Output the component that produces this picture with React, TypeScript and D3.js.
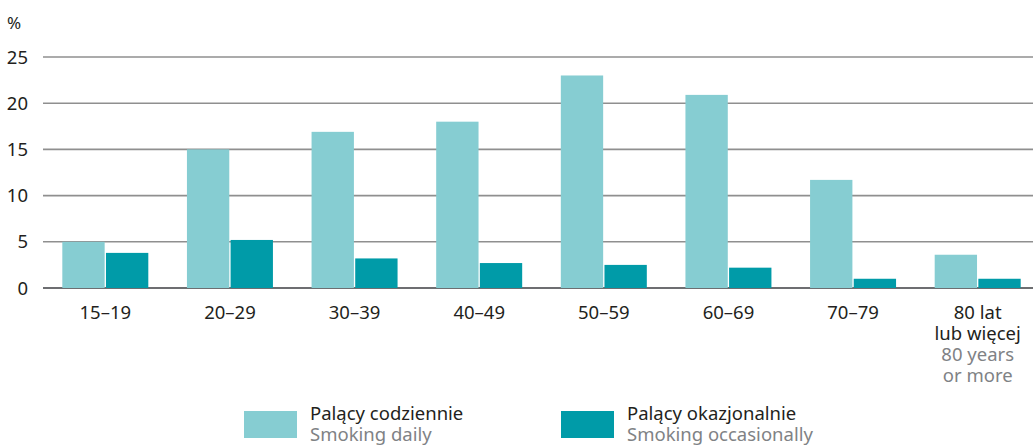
import React, { useEffect, useRef } from "react";
import * as d3 from "d3";

const categories = ["15–19", "20–29", "30–39", "40–49", "50–59", "60–69", "70–79", "80+"];
const dailyValues = [5.0, 15.0, 16.9, 18.0, 23.0, 20.9, 11.7, 3.6];
const occasionalValues = [3.8, 5.2, 3.2, 2.7, 2.5, 2.2, 1.0, 1.0];
const yTicks = [0, 5, 10, 15, 20, 25];
const seriesKeys = ["daily", "occasional"];
const seriesLabelsPl = ["Palący codziennie", "Palący okazjonalnie"];
const seriesLabelsEn = ["Smoking daily", "Smoking occasionally"];
const lastLabelPl = ["80 lat", "lub więcej"];
const lastLabelEn = ["80 years", "or more"];

const colors = ["#86cdd2", "#009ba8"];
const font = "'Noto Sans', sans-serif";
const fs = 18.5;

export default function App() {
  const ref = useRef<SVGSVGElement>(null);

  useEffect(() => {
    const svg = d3.select(ref.current);
    svg.selectAll("*").remove();

    const W = 1033;
    const left = 43;
    const y = d3.scaleLinear().domain([0, 25]).range([288, 57]);
    const x0 = d3.scaleBand().domain(categories).range([43, 1040]).paddingInner(0.31).paddingOuter(0.155);
    const x1 = d3.scaleBand().domain(seriesKeys).range([0, x0.bandwidth()]).paddingInner(0.03);

    // gridlines
    svg.append("g")
      .selectAll("line")
      .data(yTicks)
      .enter()
      .append("line")
      .attr("x1", left)
      .attr("x2", W)
      .attr("y1", (d) => y(d))
      .attr("y2", (d) => y(d))
      .attr("stroke", (d) => (d === 0 ? "#6d6e71" : "#8f8f8f"))
      .attr("stroke-width", (d) => (d === 0 ? 2 : 1.6));

    svg.append("g")
      .selectAll("text")
      .data(yTicks)
      .enter()
      .append("text")
      .attr("x", 28)
      .attr("y", (d) => y(d) + 6.5)
      .attr("text-anchor", "end")
      .attr("font-family", font)
      .attr("font-size", fs)
      .attr("fill", "#231f20")
      .text((d) => d);

    svg.append("text")
      .attr("x", 7)
      .attr("y", 29)
      .attr("font-family", font)
      .attr("font-size", 17)
      .attr("fill", "#231f20")
      .text("%");

    // bars
    const groups = svg.append("g")
      .selectAll("g")
      .data(categories)
      .enter()
      .append("g")
      .attr("transform", (d) => `translate(${x0(d)},0)`);

    groups.append("rect")
      .attr("x", x1("daily")!)
      .attr("width", x1.bandwidth())
      .attr("y", (d, i) => y(dailyValues[i]))
      .attr("height", (d, i) => y(0) - y(dailyValues[i]))
      .attr("fill", colors[0]);

    groups.append("rect")
      .attr("x", x1("occasional")!)
      .attr("width", x1.bandwidth())
      .attr("y", (d, i) => y(occasionalValues[i]))
      .attr("height", (d, i) => y(0) - y(occasionalValues[i]))
      .attr("fill", colors[1]);

    // category labels
    const cx = (d: string) => x0(d)! + x0.bandwidth() / 2;
    categories.forEach((c, i) => {
      if (i < categories.length - 1) {
        svg.append("text")
          .attr("x", cx(c))
          .attr("y", 319)
          .attr("text-anchor", "middle")
          .attr("font-family", font)
          .attr("font-size", fs)
          .attr("fill", "#231f20")
          .text(c);
      } else {
        const lines = [...lastLabelPl, ...lastLabelEn];
        lines.forEach((l, j) => {
          svg.append("text")
            .attr("x", cx(c))
            .attr("y", 319 + j * 21)
            .attr("text-anchor", "middle")
            .attr("font-family", font)
            .attr("font-size", fs)
            .attr("fill", j < 2 ? "#231f20" : "#808285")
            .text(l);
        });
      }
    });

    // legend
    const legendX = [244, 561];
    seriesKeys.forEach((k, i) => {
      svg.append("rect")
        .attr("x", legendX[i])
        .attr("y", 411)
        .attr("width", 53)
        .attr("height", 27)
        .attr("fill", colors[i]);
      svg.append("text")
        .attr("x", legendX[i] + 66)
        .attr("y", 420)
        .attr("font-family", font)
        .attr("font-size", fs)
        .attr("fill", "#231f20")
        .text(seriesLabelsPl[i]);
      svg.append("text")
        .attr("x", legendX[i] + 66)
        .attr("y", 441)
        .attr("font-family", font)
        .attr("font-size", fs)
        .attr("fill", "#808285")
        .text(seriesLabelsEn[i]);
    });
  }, []);

  return (
    <svg
      ref={ref}
      width={1033}
      height={446}
      style={{ position: "absolute", left: 0, top: 0, background: "#fff" }}
    ></svg>
  );
}
